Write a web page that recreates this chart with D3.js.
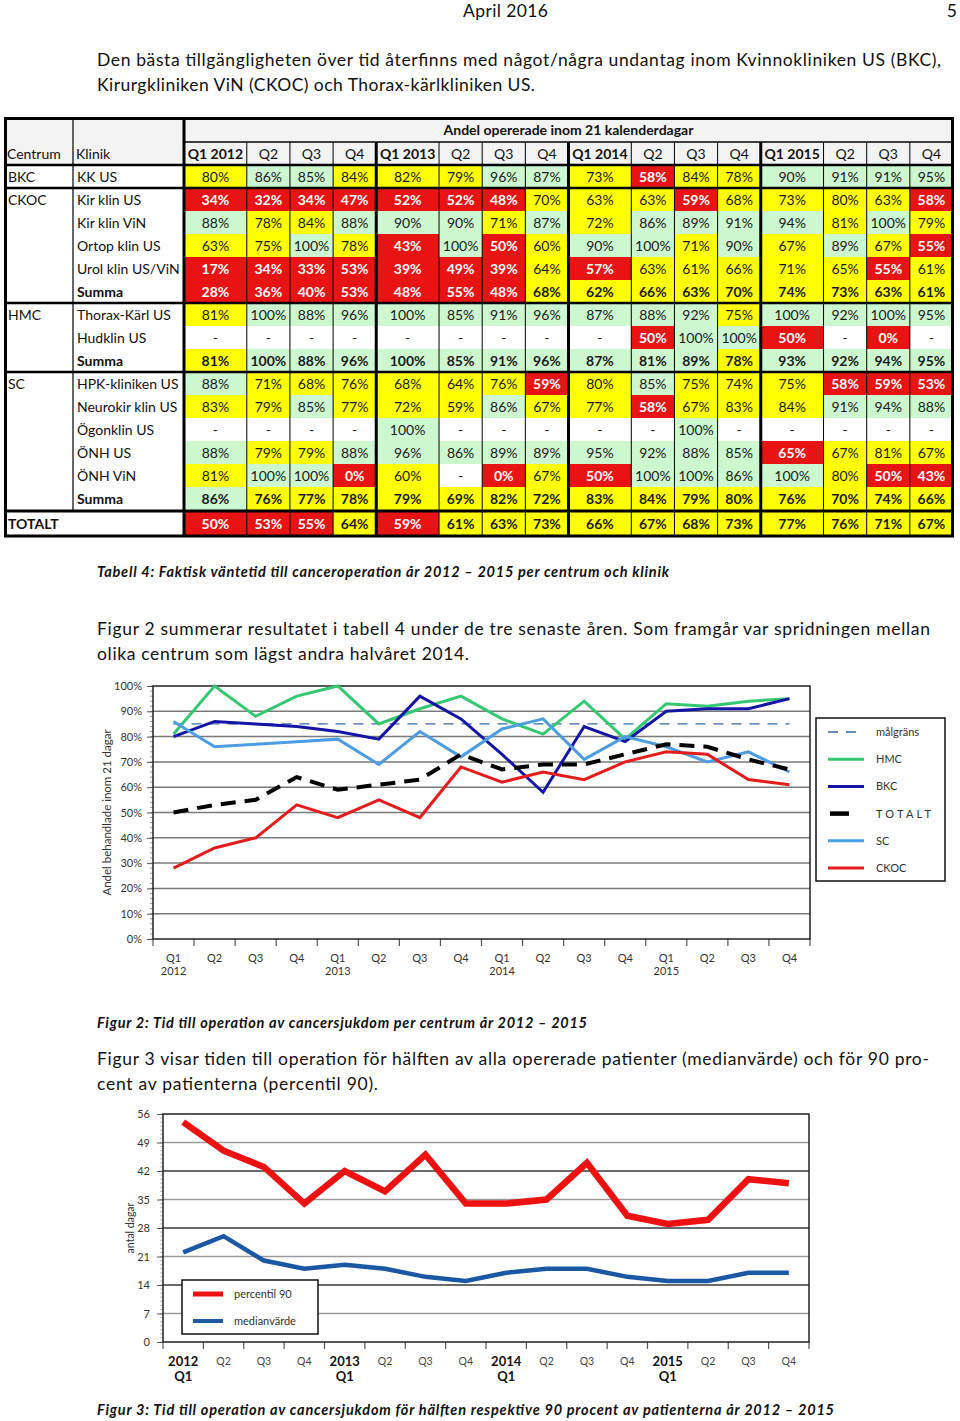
<!DOCTYPE html>
<html><head><meta charset="utf-8">
<script src="https://cdn.jsdelivr.net/npm/d3@7/dist/d3.min.js"></script>
<style>
body{margin:0;background:#fff}
svg{display:block}
text{font-family:Lato,"Open Sans",sans-serif}
</style>
</head><body>
<svg id="page" width="960" height="1421"></svg>
<script>
// ---------------- DATA ----------------
const quarters = ["Q1 2012","Q2","Q3","Q4","Q1 2013","Q2","Q3","Q4","Q1 2014","Q2","Q3","Q4","Q1 2015","Q2","Q3","Q4"];
const tableTitle = "Andel opererade inom 21 kalenderdagar";
const centra = ["BKC","CKOC","","","","","HMC","","","SC","","","","","","TOTALT"];
const kliniker = ["KK US","Kir klin US","Kir klin ViN","Ortop klin US","Urol klin US/ViN","Summa","Thorax-Kärl US","Hudklin US","Summa","HPK-kliniken US","Neurokir klin US","Ögonklin US","ÖNH US","ÖNH ViN","Summa",""];
const kkUS      = [80,86,85,84,82,79,96,87,73,58,84,78,90,91,91,95];
const kirUS     = [34,32,34,47,52,52,48,70,63,63,59,68,73,80,63,58];
const kirViN    = [88,78,84,88,90,90,71,87,72,86,89,91,94,81,100,79];
const ortopUS   = [63,75,100,78,43,100,50,60,90,100,71,90,67,89,67,55];
const urolUS    = [17,34,33,53,39,49,39,64,57,63,61,66,71,65,55,61];
const ckocSumma = [28,36,40,53,48,55,48,68,62,66,63,70,74,73,63,61];
const thoraxUS  = [81,100,88,96,100,85,91,96,87,88,92,75,100,92,100,95];
const hudUS     = [null,null,null,null,null,null,null,null,null,50,100,100,50,null,0,null];
const hmcSumma  = [81,100,88,96,100,85,91,96,87,81,89,78,93,92,94,95];
const hpkUS     = [88,71,68,76,68,64,76,59,80,85,75,74,75,58,59,53];
const neuroUS   = [83,79,85,77,72,59,86,67,77,58,67,83,84,91,94,88];
const ogonUS    = [null,null,null,null,100,null,null,null,null,null,100,null,null,null,null,null];
const onhUS     = [88,79,79,88,96,86,89,89,95,92,88,85,65,67,81,67];
const onhViN    = [81,100,100,0,60,null,0,67,50,100,100,86,100,80,50,43];
const scSumma   = [86,76,77,78,79,69,82,72,83,84,79,80,76,70,74,66];
const totalt    = [50,53,55,64,59,61,63,73,66,67,68,73,77,76,71,67];
const tableValues = [kkUS,kirUS,kirViN,ortopUS,urolUS,ckocSumma,thoraxUS,hudUS,hmcSumma,hpkUS,neuroUS,ogonUS,onhUS,onhViN,scSumma,totalt];
// cells whose colour class differs from the threshold rule [row, col, class]
const colorExceptions = [[8,9,"G"],[10,5,"Y"],[12,12,"R"]];

// Figure 2
const xLabels1 = ["Q1","Q2","Q3","Q4","Q1","Q2","Q3","Q4","Q1","Q2","Q3","Q4","Q1","Q2","Q3","Q4"];
const yearLabels = ["2012","2013","2014","2015"];
const seriesNames = ["målgräns","HMC","BKC","TOTALT","SC","CKOC"];
const malgrans = 85;
const hmcChart    = [81,100,88,96,100,85,91,96,87,81,94,79,93,92,94,95];
const bkcChart    = [80,86,85,84,82,79,96,87,73,58,84,78,90,91,91,95];
const totaltChart = [50,53,55,64,59,61,63,73,67,69,69,73,77,76,71,67];
const scChart     = [86,76,77,78,79,69,82,72,83,87,71,80,76,70,74,66];
const ckocChart   = [28,36,40,53,48,55,48,68,62,66,63,70,74,73,63,61];
const yTicks1 = [0,10,20,30,40,50,60,70,80,90,100];

// Figure 3
const percentil90 = [54,47,43,34,42,37,46,34,34,35,44,31,29,30,40,39];
const medianvarde = [22,26,20,18,19,18,16,15,17,18,18,16,15,15,17,17];
const yTicks2 = [0,7,14,21,28,35,42,49,56];
const legend2 = ["percentil 90","medianvärde"];

// Page text
const pageText = [
 "April 2016","5",
 "Den bästa tillgängligheten över tid återfinns med något/några undantag inom Kvinnokliniken US (BKC),",
 "Kirurgkliniken ViN (CKOC) och Thorax-kärlkliniken US.",
 "Tabell 4: Faktisk väntetid till canceroperation år 2012 – 2015 per centrum och klinik",
 "Figur 2 summerar resultatet i tabell 4 under de tre senaste åren. Som framgår var spridningen mellan",
 "olika centrum som lägst andra halvåret 2014.",
 "Figur 2: Tid till operation av cancersjukdom per centrum år 2012 – 2015",
 "Figur 3 visar tiden till operation för hälften av alla opererade patienter (medianvärde) och för 90 pro-",
 "cent av patienterna (percentil 90).",
 "Figur 3: Tid till operation av cancersjukdom för hälften respektive 90 procent av patienterna år 2012 – 2015"
];

// ---------------- DRAW ----------------
const svg = d3.select("#page");
svg.append("rect").attr("width",960).attr("height",1421).attr("fill","#fff");

// page text layout: [x, baseline, width, anchor, style]
const textLayout = [
 [463,17,85,"start","n"],[957,17,null,"end","n"],
 [97,66,844,"start","n"],[97,91,438,"start","n"],
 [97,577,572,"start","c"],
 [97,635,833,"start","n"],[97,660,372,"start","n"],
 [97,1028,490,"start","c"],
 [97,1065,832,"start","n"],[97,1090,281,"start","n"],
 [97,1415,737,"start","c"]
];
pageText.forEach((t,i)=>{
  const [x,y,w,a,s] = textLayout[i];
  const el = svg.append("text").attr("x",x).attr("y",y).attr("text-anchor",a)
    .attr("fill","#111").text(t);
  if (s==="c") el.attr("font-size",14.5).attr("font-weight","bold").attr("font-style","italic");
  else el.attr("font-size",17.5);
  if (w) el.attr("textLength",w).attr("lengthAdjust","spacing");
});

// ---------- TABLE ----------
const FS = 14;
const T = {l:4, r:954, t:117, h1:142, h2:165, cK:73, cV:184, bottom:536};
const weights = quarters.map(q=>q.length>2?1.455:1);
const cum = [0, ...d3.cumsum(weights)];
const xT = d3.scaleLinear().domain([0, cum[cum.length-1]]).range([T.cV, 953]);
const edges = cum.map(xT);
const yRow = d3.scaleLinear().domain([0,15]).range([T.h2, 510]);
const rowTop = i => i<15 ? yRow(i) : yRow(15)+2;
const rowH = yRow(1)-yRow(0);
const fills = {R:"#e81414",Y:"#ffff00",G:"#ccf7cf",W:"#ffffff"};
const boldRows = new Set([5,8,14,15]);
function cls(r,c,v){
  const ex = colorExceptions.find(e=>e[0]===r&&e[1]===c);
  if (ex) return ex[2];
  if (v===null) return "W";
  return v<60?"R":(v<85?"Y":"G");
}
const gT = svg.append("g");
gT.append("rect").attr("x",T.l).attr("y",T.t).attr("width",T.r-T.l).attr("height",T.h2-T.t).attr("fill","#f3f3f3");
const cells = [];
tableValues.forEach((row,r)=>row.forEach((v,c)=>cells.push({r,c,v,k:cls(r,c,v)})));
gT.selectAll("rect.cell").data(cells).join("rect")
  .attr("x",d=>edges[d.c]).attr("y",d=>rowTop(d.r))
  .attr("width",d=>edges[d.c+1]-edges[d.c]).attr("height",rowH+0.5)
  .attr("fill",d=>fills[d.k]);
gT.selectAll("text.val").data(cells).join("text")
  .attr("x",d=>(edges[d.c]+edges[d.c+1])/2).attr("y",d=>rowTop(d.r)+rowH/2+5)
  .attr("text-anchor","middle").attr("font-size",FS)
  .attr("font-weight",d=>(d.k==="R"||boldRows.has(d.r))?"bold":"normal")
  .attr("fill",d=>d.k==="R"?"#fff":"#1a1a1a")
  .text(d=>d.v===null?"-":d.v+"%");
// labels
gT.selectAll("text.cent").data(centra).join("text")
  .attr("x",T.l+4).attr("y",(d,i)=>rowTop(i)+rowH/2+5).attr("font-size",FS)
  .attr("font-weight",(d,i)=>i===15?"bold":"normal").attr("fill","#111").text(d=>d);
gT.selectAll("text.klin").data(kliniker).join("text")
  .attr("x",T.cK+4).attr("y",(d,i)=>rowTop(i)+rowH/2+5).attr("font-size",FS)
  .attr("font-weight",(d,i)=>boldRows.has(i)?"bold":"normal").attr("fill","#111").text(d=>d);
// headers
gT.append("text").attr("x",(T.cV+953)/2).attr("y",135).attr("text-anchor","middle")
  .attr("font-size",FS).attr("font-weight","bold").attr("fill","#111").text(tableTitle);
gT.append("text").attr("x",T.l+3).attr("y",159).attr("font-size",FS).attr("fill","#111").text("Centrum");
gT.append("text").attr("x",T.cK+3).attr("y",159).attr("font-size",FS).attr("fill","#111").text("Klinik");
gT.selectAll("text.q").data(quarters).join("text")
  .attr("x",(d,i)=>(edges[i]+edges[i+1])/2).attr("y",159).attr("text-anchor","middle")
  .attr("font-size",FS).attr("font-weight",d=>d.length>2?"bold":"normal").attr("fill","#111").text(d=>d);
// grid lines
const ln = (x1,y1,x2,y2,w)=>gT.append("line").attr("x1",x1).attr("y1",y1).attr("x2",x2).attr("y2",y2).attr("stroke","#000").attr("stroke-width",w);
edges.forEach((x,i)=>{ if(i>0&&i<16&&i%4!==0) ln(x,T.h1,x,T.bottom,1); });
ln(T.cK,T.t,T.cK,yRow(15)+1,1.2);
ln(T.cV,T.h1,953,T.h1,1.5);
[4,8,12].forEach(i=>ln(edges[i],T.h1,edges[i],T.bottom,3));
ln(T.cV,T.t,T.cV,T.bottom,3);
[T.h2, yRow(1), yRow(6), yRow(9)].forEach(y=>ln(T.l,y,T.r,y,2.5));
ln(T.l,yRow(15)+1,T.r,yRow(15)+1,3);
gT.append("rect").attr("x",T.l+1.5).attr("y",T.t+1.5).attr("width",T.r-T.l-3).attr("height",T.bottom-T.t-1.5)
  .attr("fill","none").attr("stroke","#000").attr("stroke-width",3);

// ---------- FIGURE 2 ----------
const c1 = {l:153, r:810, t:686, b:939};
const x1 = d3.scaleBand().domain(d3.range(16)).range([c1.l,c1.r]);
const y1 = d3.scaleLinear().domain([0,100]).range([c1.b,c1.t]);
const cx1 = i => x1(i)+x1.bandwidth()/2;
const g1 = svg.append("g").attr("font-family","Lato");
g1.selectAll("line.grid").data(yTicks1.filter(d=>d>0&&d<100)).join("line")
  .attr("x1",c1.l).attr("x2",c1.r).attr("y1",d=>y1(d)).attr("y2",d=>y1(d))
  .attr("stroke","#7a7a7a").attr("stroke-width",1.5);
// minor ticks
g1.selectAll("line.minor").data(d3.range(0,101,2)).join("line")
  .attr("x1",c1.l-3).attr("x2",c1.l).attr("y1",d=>y1(d)).attr("y2",d=>y1(d)).attr("stroke","#999").attr("stroke-width",1);
const ax1 = g1.append("g").attr("transform",`translate(${c1.l},0)`)
  .call(d3.axisLeft(y1).tickValues(yTicks1).tickFormat(d=>d+"%").tickSize(6).tickPadding(5));
ax1.select(".domain").remove();
ax1.selectAll("text").attr("font-size",11).attr("fill","#333").attr("font-family","Lato");
ax1.selectAll("line").attr("stroke","#555");
g1.selectAll("line.xt").data(d3.range(17)).join("line")
  .attr("x1",d=>d<16?x1(d):c1.r).attr("x2",d=>d<16?x1(d):c1.r).attr("y1",c1.b).attr("y2",c1.b+7)
  .attr("stroke","#555").attr("stroke-width",1.2);
g1.selectAll("text.xl").data(xLabels1).join("text")
  .attr("x",(d,i)=>cx1(i)).attr("y",962).attr("text-anchor","middle").attr("font-size",11).attr("fill","#333").text(d=>d);
g1.selectAll("text.yr").data(yearLabels).join("text")
  .attr("x",(d,i)=>cx1(i*4)).attr("y",975).attr("text-anchor","middle").attr("font-size",11).attr("fill","#333").text(d=>d);
g1.append("rect").attr("x",c1.l).attr("y",c1.t).attr("width",c1.r-c1.l).attr("height",c1.b-c1.t)
  .attr("fill","none").attr("stroke","#222").attr("stroke-width",1.5);
g1.append("text").attr("transform",`translate(111,${(c1.t+c1.b)/2}) rotate(-90)`).attr("text-anchor","middle")
  .attr("font-size",11.5).attr("fill","#333").text("Andel behandlade inom 21 dagar");
const line1 = d3.line().x((d,i)=>cx1(i)).y(d=>y1(d));
const styles1 = {
  "målgräns":{c:"#3b68a8",w:1.3,dash:"10,8"},
  "HMC":{c:"#35c872",w:3},
  "BKC":{c:"#1414a6",w:3},
  "TOTALT":{c:"#000",w:4,dash:"15,9"},
  "SC":{c:"#4c9de2",w:3},
  "CKOC":{c:"#e41c1c",w:3}
};
const seriesData1 = {"HMC":hmcChart,"BKC":bkcChart,"TOTALT":totaltChart,"SC":scChart,"CKOC":ckocChart};
g1.append("line").attr("x1",cx1(0)).attr("x2",cx1(15)).attr("y1",y1(malgrans)).attr("y2",y1(malgrans))
  .attr("stroke",styles1["målgräns"].c).attr("stroke-width",1.3).attr("stroke-dasharray","10,8");
["HMC","BKC","SC","TOTALT","CKOC"].forEach(n=>{
  const s = styles1[n];
  g1.append("path").datum(seriesData1[n]).attr("d",line1).attr("fill","none")
    .attr("stroke",s.c).attr("stroke-width",s.w).attr("stroke-linejoin","miter")
    .attr("stroke-dasharray",s.dash||null);
});
// legend
const lg1 = g1.append("g");
lg1.append("rect").attr("x",816).attr("y",718).attr("width",129).attr("height",163)
  .attr("fill","#fff").attr("stroke","#111").attr("stroke-width",1.5);
const yL1 = d3.scaleLinear().domain([0,5]).range([732,868]);
seriesNames.forEach((n,i)=>{
  const s = styles1[n];
  lg1.append("line").attr("x1",n==="TOTALT"?830:828).attr("x2",n==="TOTALT"?849:864)
    .attr("y1",yL1(i)).attr("y2",yL1(i)).attr("stroke",s.c).attr("stroke-width",n==="målgräns"?1.3:(n==="TOTALT"?4.5:3))
    .attr("stroke-dasharray",n==="målgräns"?"10,8":null);
  lg1.append("text").attr("x",876).attr("y",yL1(i)+4).attr("font-size",11).attr("fill","#333")
    .attr("letter-spacing",n==="TOTALT"?3.2:0).text(n);
});

// ---------- FIGURE 3 ----------
const c2 = {l:163, r:809, t:1114, b:1342};
const x2 = d3.scaleBand().domain(d3.range(16)).range([c2.l,c2.r]);
const y2 = d3.scaleLinear().domain([0,56]).range([c2.b,c2.t]);
const cx2 = i => x2(i)+x2.bandwidth()/2;
const g2 = svg.append("g");
g2.selectAll("line.grid").data(yTicks2.filter(d=>d>0&&d<56)).join("line")
  .attr("x1",c2.l).attr("x2",c2.r).attr("y1",d=>y2(d)).attr("y2",d=>y2(d))
  .attr("stroke",d=>d%14===0?"#3a3a3a":"#9a9a9a").attr("stroke-width",1.5);
g2.selectAll("line.minor").data(d3.range(0,57,1)).join("line")
  .attr("x1",c2.l-3).attr("x2",c2.l).attr("y1",d=>y2(d)).attr("y2",d=>y2(d)).attr("stroke","#aaa").attr("stroke-width",0.8);
const ax2 = g2.append("g").attr("transform",`translate(${c2.l},0)`)
  .call(d3.axisLeft(y2).tickValues(yTicks2).tickSize(6).tickPadding(7));
ax2.select(".domain").remove();
ax2.selectAll("text").attr("font-size",11).attr("fill","#333").attr("font-family","Lato");
ax2.selectAll("line").attr("stroke","#555");
g2.selectAll("line.xt").data(d3.range(17)).join("line")
  .attr("x1",d=>d<16?x2(d):c2.r).attr("x2",d=>d<16?x2(d):c2.r).attr("y1",c2.b).attr("y2",c2.b+7)
  .attr("stroke","#555").attr("stroke-width",1.2);
g2.selectAll("text.xl").data(xLabels1).join("text")
  .attr("x",(d,i)=>cx2(i)).attr("y",(d,i)=>i%4===0?1381:1365).attr("text-anchor","middle")
  .attr("font-size",(d,i)=>i%4===0?13:10.5).attr("font-weight",(d,i)=>i%4===0?"bold":"normal")
  .attr("fill",(d,i)=>i%4===0?"#111":"#444").text(d=>d);
g2.selectAll("text.yr").data(yearLabels).join("text")
  .attr("x",(d,i)=>cx2(i*4)).attr("y",1366).attr("text-anchor","middle").attr("font-size",13)
  .attr("font-weight","bold").attr("fill","#111").text(d=>d);
g2.append("rect").attr("x",c2.l).attr("y",c2.t).attr("width",c2.r-c2.l).attr("height",c2.b-c2.t)
  .attr("fill","none").attr("stroke","#222").attr("stroke-width",1.5);
g2.append("text").attr("transform",`translate(134,1228) rotate(-90)`).attr("text-anchor","middle")
  .attr("font-size",10.5).attr("fill","#333").text("antal dagar");
const line2 = d3.line().x((d,i)=>cx2(i)).y(d=>y2(d));
g2.append("path").datum(percentil90).attr("d",line2).attr("fill","none").attr("stroke","#ee1111").attr("stroke-width",6.5);
g2.append("path").datum(medianvarde).attr("d",line2).attr("fill","none").attr("stroke","#1b58a3").attr("stroke-width",4.5);
const lg2 = g2.append("g");
lg2.append("rect").attr("x",182).attr("y",1280).attr("width",136).attr("height",54)
  .attr("fill","#fff").attr("stroke","#111").attr("stroke-width",1.5);
[["#ee1111",5],["#1b58a3",4]].forEach((s,i)=>{
  const y = 1294 + i*27;
  lg2.append("line").attr("x1",193).attr("x2",223).attr("y1",y).attr("y2",y).attr("stroke",s[0]).attr("stroke-width",s[1]);
  lg2.append("text").attr("x",234).attr("y",y+4).attr("font-size",11).attr("fill","#333").text(legend2[i]);
});
</script>
</body></html>
